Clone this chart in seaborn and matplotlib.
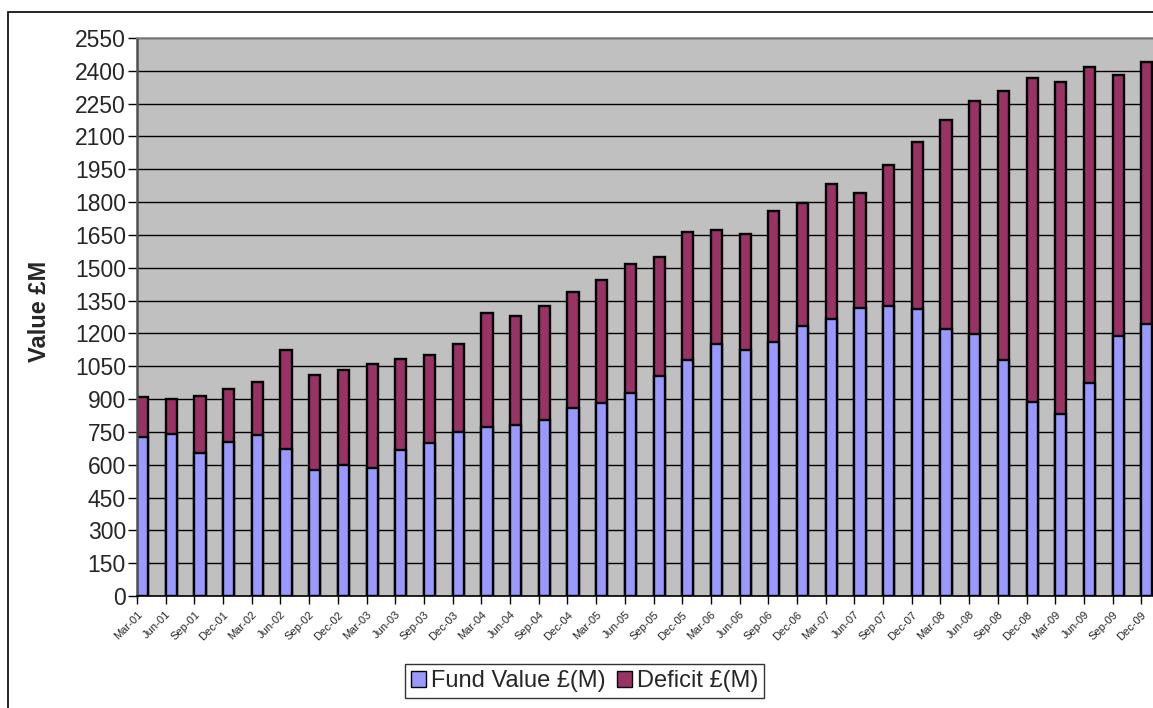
"""Pension fund value and deficit by quarter, 2001-2009 (stacked bars)."""

import matplotlib

matplotlib.use("Agg")
import matplotlib.pyplot as plt
import numpy as np
import seaborn as sns
from matplotlib.patches import Rectangle


QUARTERS = [
    f"{m}-{y:02d}"
    for y in range(1, 10)
    for m in ["Mar", "Jun", "Sep", "Dec"]
]

FUND_VALUE = [
    727, 741, 652, 704, 735, 673, 577, 600, 587, 666, 698, 749,
    771, 781, 803, 858, 881, 927, 1007, 1078, 1150, 1123, 1163, 1235,
    1267, 1318, 1324, 1312, 1218, 1197, 1077, 886, 830, 975, 1188, 1242,
]

DEFICIT = [
    183, 159, 263, 244, 245, 449, 435, 435, 475, 419, 405, 401,
    521, 497, 522, 530, 562, 590, 541, 584, 523, 530, 595, 562,
    618, 522, 647, 762, 958, 1063, 1233, 1479, 1518, 1443, 1195, 1200,
]

Y_TICKS = list(range(0, 2551, 150))

FUND_COLOR = "#9999FF"
DEFICIT_COLOR = "#993366"
WALL_COLOR = "#C0C0C0"
BAR_WIDTH = 0.39


def main():
    sns.set_style("ticks")
    plt.rcParams["font.family"] = ["Liberation Sans", "DejaVu Sans"]

    fund = np.array(FUND_VALUE)
    total = fund + np.array(DEFICIT)

    fig = plt.figure(figsize=(11.53, 7.08), dpi=100)
    # plot area runs past the right edge of the picture, like the original crop
    ax = fig.add_axes([137 / 1153, 112 / 708, 1033 / 1153, 558 / 708])
    ax.set_facecolor(WALL_COLOR)
    ax.set_axisbelow(True)
    ax.yaxis.grid(True, color="black", linewidth=1.0)
    ax.xaxis.grid(False)

    bar_style = dict(width=BAR_WIDTH, saturation=1, edgecolor="black",
                     linewidth=1.7, order=QUARTERS, ax=ax)
    sns.barplot(x=QUARTERS, y=total, color=DEFICIT_COLOR, **bar_style)
    sns.barplot(x=QUARTERS, y=fund, color=FUND_COLOR, **bar_style)

    ax.set_ylim(0, 2550)
    ax.set_yticks(Y_TICKS)
    ax.set_xlim(-BAR_WIDTH / 2, len(QUARTERS) - BAR_WIDTH / 2)
    ax.set_xticks(np.arange(len(QUARTERS)) - BAR_WIDTH / 2)
    ax.set_xticklabels(QUARTERS, rotation=45, ha="right", va="top",
                       rotation_mode="anchor", fontsize=8)
    ax.tick_params(axis="y", labelsize=16.5, length=6.5, width=1,
                   pad=1.5, color="black")
    ax.tick_params(axis="x", length=5.8, width=1, pad=4, color="black")
    ax.set_xlabel("")
    ax.set_ylabel("")

    ax.spines["left"].set_color("#505050")
    ax.spines["left"].set_linewidth(1.8)
    ax.spines["bottom"].set_color("black")
    ax.spines["bottom"].set_linewidth(1.2)
    for side in ["top", "right"]:
        ax.spines[side].set_visible(True)
        ax.spines[side].set_color("#8C8C8C")
        ax.spines[side].set_linewidth(1.2)

    fig.text(39 / 1153, 1 - 311 / 708, "Value £M", rotation=90,
             fontsize=17, fontweight="bold", ha="center", va="center")

    handles = [
        Rectangle((0, 0), 1, 1, facecolor=FUND_COLOR, edgecolor="black"),
        Rectangle((0, 0), 1, 1, facecolor=DEFICIT_COLOR, edgecolor="black"),
    ]
    legend = fig.legend(handles, ["Fund Value £(M)", "Deficit £(M)"],
                        loc="center", bbox_to_anchor=(0.507, 0.038),
                        ncol=2, fontsize=17, frameon=True, fancybox=False,
                        handlelength=0.65, handleheight=0.7,
                        handletextpad=0.2, columnspacing=0.5,
                        borderpad=0.25, borderaxespad=0)
    legend.get_frame().set_edgecolor("black")
    legend.get_frame().set_linewidth(1.0)

    # outer chart border (only left and top edges fall inside the picture)
    fig.patches.append(Rectangle((8 / 1153, -0.2), 1.5, 0.2 + 1 - 12 / 708,
                                 transform=fig.transFigure, fill=False,
                                 edgecolor="black", linewidth=1.2))

    fig.savefig("out.png", dpi=100)
    plt.close(fig)


if __name__ == "__main__":
    main()
